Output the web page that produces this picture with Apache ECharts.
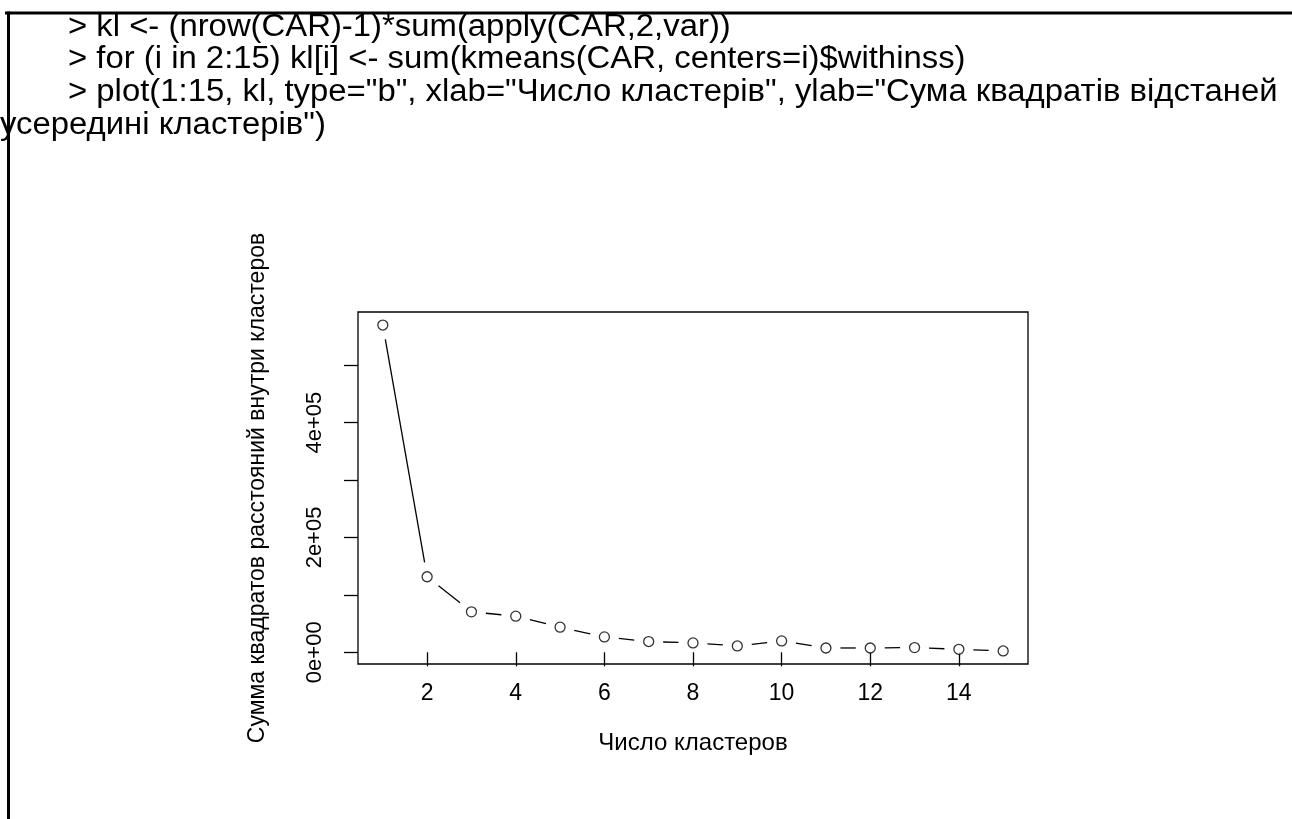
<!DOCTYPE html>
<html>
<head>
<meta charset="utf-8">
<script src="https://cdn.jsdelivr.net/npm/echarts@6/dist/echarts.min.js"></script>
<style>
html,body{margin:0;padding:0;background:#fff;}
#c{width:1292px;height:819px;}
</style>
</head>
<body>
<div id="c"></div>
<script>
// ---- data ----
const codeLines = [
  '> kl <- (nrow(CAR)-1)*sum(apply(CAR,2,var))',
  '> for (i in 2:15) kl[i] <- sum(kmeans(CAR, centers=i)$withinss)',
  '> plot(1:15, kl, type="b", xlab="Число кластерів", ylab="Сума квадратів відстаней',
  'усередині кластерів")'
];
const clusters = [1,2,3,4,5,6,7,8,9,10,11,12,13,14,15];
const withinSS = [570000,131600,70500,62900,43700,26800,18700,16300,11000,19800,7500,7500,8200,5200,2300];
const xTicks = [2,4,6,8,10,12,14];
const yTicks = [0,100000,200000,300000,400000,500000];
const yTickLabels = [0,200000,400000];
const xTitle = 'Число кластеров';
const yTitle = 'Сумма квадратов расстояний внутри кластеров';

const FONT = '"Liberation Sans", Arial, sans-serif';
const chart = echarts.init(document.getElementById('c'), null, {renderer:'canvas'});

// R-style 4% axis expansion
const xMin = Math.min(...clusters), xMax = Math.max(...clusters);
const yMin = Math.min(...withinSS), yMax = Math.max(...withinSS);
const xPad = (xMax - xMin) * 0.04, yPad = (yMax - yMin) * 0.04;

function sci(v){
  if (v === 0) return '0e+00';
  const e = Math.floor(Math.log10(Math.abs(v)));
  const m = Math.round(v / Math.pow(10, e));
  return m + 'e+' + String(e).padStart(2,'0');
}

const segs = [];
for (let i = 0; i < clusters.length - 1; i++) {
  segs.push([clusters[i], withinSS[i], clusters[i+1], withinSS[i+1]]);
}

const codeGraphics = codeLines.map((t, i) => ({
  type: 'text',
  x: i === 3 ? 0 : 68,
  y: [27, 59, 92, 125][i],
  scaleX: 1.06,
  style: { text: t, fill: '#000', font: '31px ' + FONT, textVerticalAlign: 'middle', verticalAlign: 'middle' }
}));

chart.setOption({
  animation: false,
  backgroundColor: '#fff',
  graphic: [
    { type: 'line', shape: {x1: 5, y1: 13, x2: 1292, y2: 13}, style: {stroke: '#000', lineWidth: 3} },
    { type: 'line', shape: {x1: 8.5, y1: 11.5, x2: 8.5, y2: 819}, style: {stroke: '#000', lineWidth: 3} },
    ...codeGraphics
  ],
  grid: { left: 358, top: 312, width: 670, height: 352, show: true, borderColor: '#000', borderWidth: 1.3, backgroundColor: 'transparent' },
  xAxis: {
    type: 'value', min: xMin - xPad, max: xMax + xPad,
    splitLine: {show: false},
    axisLine: {show: false},
    axisTick: {show: true, inside: false, length: 14, customValues: xTicks, lineStyle: {color: '#000', width: 1.3}},
    axisLabel: {show: true, customValues: xTicks, margin: 18, color: '#000', fontSize: 23, fontFamily: FONT},
    name: xTitle, nameLocation: 'middle', nameGap: 67,
    nameTextStyle: {color: '#000', fontSize: 24, fontFamily: FONT}
  },
  yAxis: {
    type: 'value', min: yMin - yPad, max: yMax + yPad,
    splitLine: {show: false},
    axisLine: {show: false},
    axisTick: {show: true, inside: false, length: 14, customValues: yTicks, lineStyle: {color: '#000', width: 1.3}},
    axisLabel: {show: true, customValues: yTickLabels, rotate: 90, margin: 32, color: '#000', fontSize: 22, fontFamily: FONT, formatter: v => sci(v)},
    name: yTitle, nameLocation: 'middle', nameGap: 89, nameRotate: 90,
    nameTextStyle: {color: '#000', fontSize: 23, fontFamily: FONT}
  },
  series: [
    {
      type: 'custom', coordinateSystem: 'cartesian2d', data: segs, clip: false,
      encode: {x: [0, 2], y: [1, 3]},
      renderItem: function(params, api){
        const p1 = api.coord([api.value(0), api.value(1)]);
        const p2 = api.coord([api.value(2), api.value(3)]);
        const dx = p2[0]-p1[0], dy = p2[1]-p1[1];
        const d = Math.sqrt(dx*dx+dy*dy);
        const gap = 14.5;
        if (d <= 2*gap) return null;
        const ux = dx/d, uy = dy/d;
        return {
          type: 'line',
          shape: {x1: p1[0]+ux*gap, y1: p1[1]+uy*gap, x2: p2[0]-ux*gap, y2: p2[1]-uy*gap},
          style: {stroke: '#000', lineWidth: 1.3}
        };
      }
    },
    {
      type: 'scatter', data: clusters.map((x, i) => [x, withinSS[i]]),
      symbol: 'circle', symbolSize: 10,
      itemStyle: {color: '#fff', borderColor: '#000', borderWidth: 1.3}
    }
  ]
});
</script>
</body>
</html>
